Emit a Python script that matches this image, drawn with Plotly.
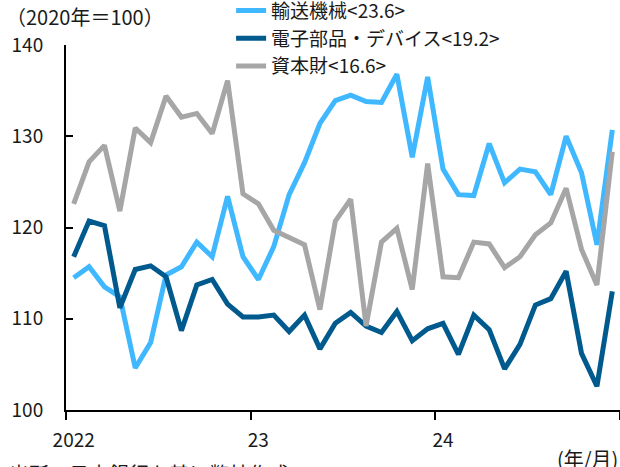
import plotly.graph_objects as go

months = list(range(36))  # 2022/01 .. 2024/12
year_tick_vals = [0, 12, 24]
year_tick_text = ["2022", "23", "24"]
year_bounds = [-0.5, 11.5, 23.5, 35.5]

transport = [114.5, 115.7, 113.5, 112.4, 104.6, 107.4, 114.8, 115.7, 118.4, 116.8, 123.4, 116.8,
             114.3, 117.9, 123.6, 127.1, 131.4, 133.9, 134.5, 133.8, 133.7, 136.8, 127.7, 136.5,
             126.4, 123.6, 123.5, 129.2, 124.9, 126.4, 126.1, 123.6, 130.0, 126.0, 118.1, 130.7]
electronics = [116.8, 120.7, 120.2, 111.2, 115.4, 115.8, 114.6, 108.7, 113.7, 114.3, 111.6, 110.2,
               110.2, 110.4, 108.6, 110.4, 106.7, 109.5, 110.7, 109.2, 108.5, 110.8, 107.6, 108.9,
               109.5, 106.1, 110.4, 108.8, 104.5, 107.2, 111.5, 112.2, 115.2, 106.2, 102.6, 113.0]
capital = [122.6, 127.2, 129.0, 121.8, 130.9, 129.3, 134.4, 132.1, 132.5, 130.3, 136.1, 123.7,
           122.6, 119.7, 118.9, 118.1, 111.0, 120.7, 123.1, 109.2, 118.4, 119.9, 113.2, 127.0,
           114.6, 114.5, 118.4, 118.2, 115.6, 116.8, 119.2, 120.5, 124.3, 117.6, 113.7, 128.3]

names = ["輸送機械<23.6>", "電子部品・デバイス<19.2>", "資本財<16.6>"]
colors = ["#40B8FF", "#005A8E", "#A6A6A6"]
series = [transport, electronics, capital]

FONT = "Noto Sans CJK JP"

fig = go.Figure()
for nm, col, vals in zip(names, colors, series):
    fig.add_trace(go.Scatter(x=months, y=vals, mode="lines", name=nm,
                             line=dict(color=col, width=5, shape="linear")))

fig.update_layout(
    width=620, height=467,
    margin=dict(l=66, r=0, t=45, b=57, autoexpand=False),
    paper_bgcolor="white", plot_bgcolor="white",
    font=dict(family=FONT, size=19, color="#1a1a1a"),
    showlegend=True,
    legend=dict(x=0.298, y=1.146, xanchor="left", yanchor="top",
                bgcolor="rgba(0,0,0,0)", font=dict(size=19, family=FONT),
                tracegroupgap=0, itemwidth=30),
    xaxis=dict(range=[-0.5, 35.5], showgrid=False, zeroline=False,
               showline=True, linecolor="black", linewidth=2,
               tickmode="array", tickvals=year_tick_vals, ticktext=year_tick_text,
               ticks="", ticklabelstandoff=12,
               tickfont=dict(size=19, family=FONT),
               minor=dict(tickmode="array", tickvals=year_bounds, ticks="outside",
                          ticklen=8, tickwidth=2, tickcolor="black", showgrid=False)),
    yaxis=dict(range=[100, 140], dtick=10, showgrid=False, zeroline=False,
               showline=True, linecolor="black", linewidth=2,
               ticks="inside", ticklen=7, tickwidth=2, tickcolor="black",
               ticklabelstandoff=17, tickfont=dict(size=19, family=FONT)),
    annotations=[
        dict(text="（2020年＝100）", xref="paper", yref="paper", x=-0.112, y=1.078,
             xanchor="left", yanchor="middle", showarrow=False,
             font=dict(size=20, family=FONT)),
        dict(text="(年/月)", xref="paper", yref="paper", x=1.0, y=-0.132,
             xanchor="right", yanchor="middle", showarrow=False,
             font=dict(size=20, family=FONT)),
        dict(text="出所：日本銀行を基に弊社作成", xref="paper", yref="paper", x=-0.107, y=-0.129,
             xanchor="left", yanchor="top", showarrow=False,
             font=dict(size=20, family=FONT)),
    ],
)

fig.write_html("out.html", config={"displayModeBar": False},
               post_script="document.body.style.margin='0';document.body.style.overflow='hidden';")
